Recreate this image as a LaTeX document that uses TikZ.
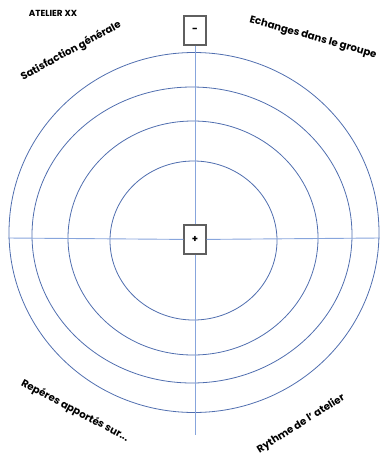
\documentclass[tikz,border=0pt]{standalone}
\usepackage{fontspec}
\setmainfont{Poppins}
\usetikzlibrary{positioning}
\definecolor{axisblue}{RGB}{135,165,220}
\definecolor{ringblue}{RGB}{80,110,175}
\definecolor{boxgray}{RGB}{95,95,95}

\begin{document}
\begin{tikzpicture}[x=1pt,y=-1pt,
    lbl/.style={font=\bfseries\fontsize{10.2}{12}\selectfont, inner sep=0pt},
    sign/.style={draw=boxgray, line width=1.1pt, fill=white, minimum width=22pt,
      minimum height=29pt, inner sep=0pt, font=\bfseries\fontsize{10}{12}\selectfont}]
  \useasboundingbox (0,0) rectangle (380,456);
  \coordinate (left) at (8,238);
  \coordinate (right) at (380,238);
  \coordinate (bottom) at (195,435);
  %Rings
  \foreach \cx/\cy/\rx/\ry in {194/232.5/185/180, 192/235/160/148, 193/238/125/117, 193.5/240.5/83.5/79.5}
    \draw[ringblue, line width=0.8pt] (\cx,\cy) ellipse [x radius=\rx, y radius=\ry];
  %Signs
  \node[sign] (minus) at (195,30.5) {-};
  \node[sign] (plus) at (195,239.5) {+};
  %Axis
  \draw[axisblue, line width=0.9pt] (minus) -- (plus) -- (bottom);
  \draw[axisblue, line width=0.9pt] (left) -- (plus) -- (right);
  %Labels
  \node[lbl, font=\bfseries\fontsize{8.8}{10}\selectfont] (title) at (53,13.5) {ATELIER XX};
  \node[lbl, rotate=28.6] (satisf) at (71,51) {Satisfaction générale};
  \node[lbl, rotate=-15.8] (echange) at (313,38) {Echanges dans le groupe};
  \node[lbl, rotate=-27.8] (repere) at (75,411) {Repéres apportés sur...};
  \node[lbl, rotate=32] (rythme) at (301,424) {Rythme de l’ atelier};
\end{tikzpicture}
\end{document}
